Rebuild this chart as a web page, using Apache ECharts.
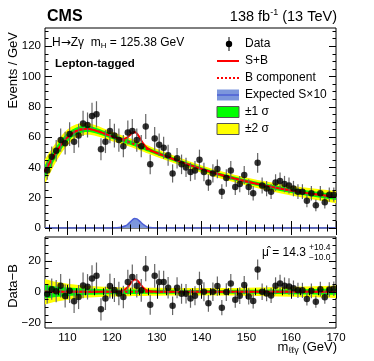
<!DOCTYPE html>
<html>
<head>
<meta charset="utf-8">
<script src="https://cdn.jsdelivr.net/npm/echarts@6/dist/echarts.min.js"></script>
<style>
  html, body { margin: 0; padding: 0; background: #fff; }
  #chart { width: 374px; height: 361px; }
</style>
</head>
<body>
<div id="chart"></div>
<script>
// 1 GeV bins, 105-170 GeV
const binCentres = [105.5, 106.5, 107.5, 108.5, 109.5, 110.5, 111.5, 112.5, 113.5, 114.5,
  115.5, 116.5, 117.5, 118.5, 119.5, 120.5, 121.5, 122.5, 123.5, 124.5,
  125.5, 126.5, 127.5, 128.5, 129.5, 130.5, 131.5, 132.5, 133.5, 134.5,
  135.5, 136.5, 137.5, 138.5, 139.5, 140.5, 141.5, 142.5, 143.5, 144.5,
  145.5, 146.5, 147.5, 148.5, 149.5, 150.5, 151.5, 152.5, 153.5, 154.5,
  155.5, 156.5, 157.5, 158.5, 159.5, 160.5, 161.5, 162.5, 163.5, 164.5,
  165.5, 166.5, 167.5, 168.5, 169.5];
const eventCounts = [38, 47, 51, 58, 56, 62, 57, 61, 69, 68,
  74, 75, 52, 57, 64, 61, 58, 54, 63, 64,
  58, 54, 67, 42, 59, 55, 53, 48, 36, 46,
  42, 40, 37, 38, 45, 37, 30, 36, 39, 24,
  33, 38, 27, 29, 35, 27, 23, 43, 28, 26,
  24, 30, 31, 29, 28, 26, 24, 24, 18, 23,
  15, 23, 17, 22, 22];
const dataMinusB = [-1.5, 1.7, 0.4, 3.9, -2.8, 0.6, -6.2, -3.4, 4.1, 3.2,
  8.6, 10.3, -11.4, -4.3, 3.7, 1.1, -1.1, -3.4, 6.4, 9.6,
  3.9, 0.9, 15.0, -8.5, 10.3, 6.4, 6.4, 2.6, -9.1, 2.6,
  -1.3, -1.3, -4.3, -2.6, 6.3, 0.0, -7.5, 0.0, 3.7, -10.3,
  -0.2, 5.4, -5.2, -2.6, 4.3, -3.0, -6.0, 14.4, 0.0, -1.1,
  -2.4, 3.9, 5.4, 3.9, 3.4, 2.2, 0.9, 0.9, -4.7, 0.6,
  -6.5, 1.7, -3.6, 1.5, 2.0];

// fit curves, read at these masses
const curveMass = [105, 106, 107, 108, 109, 110, 111, 112, 113, 114, 115, 116, 117, 118, 119, 120,
  121, 122, 122.5, 123, 123.5, 124, 124.5, 125, 125.5, 126, 126.5, 127, 127.5, 128, 129, 130,
  132.5, 135, 137.5, 140, 142.5, 145, 147.5, 150, 152.5, 155, 157.5, 160, 162.5, 165, 167.5, 170];
const bkgFit = [37.2, 42.7, 47.8, 52.4, 56.5, 59.8, 62.3, 64.0, 65.0, 65.4, 65.3, 64.6, 63.7, 62.6, 61.5, 60.4,
  59.4, 58.4, 57.9, 57.4, 56.9, 56.4, 55.9, 55.3, 54.8, 54.2, 53.6, 53.0, 52.4, 51.8, 50.6, 49.5,
  46.7, 44.0, 41.4, 38.9, 36.6, 34.5, 32.5, 30.7, 29.0, 27.5, 26.0, 24.7, 23.5, 22.4, 21.4, 20.4];
const sigFit = [0, 0, 0, 0, 0, 0, 0, 0, 0, 0, 0, 0, 0, 0, 0, 0,
  0.1, 0.4, 0.9, 1.8, 3.2, 5.0, 6.9, 8.0, 7.6, 6.1, 4.2, 2.5, 1.3, 0.6, 0.1, 0,
  0, 0, 0, 0, 0, 0, 0, 0, 0, 0, 0, 0, 0, 0, 0, 0];
const band1 = [4.4, 4.0, 3.6, 3.3, 3.0, 2.8, 2.6, 2.4, 2.25, 2.1, 2.0, 1.9, 1.8, 1.7, 1.65, 1.6,
  1.55, 1.5, 1.5, 1.5, 1.45, 1.45, 1.45, 1.4, 1.4, 1.4, 1.4, 1.35, 1.35, 1.35, 1.3, 1.3,
  1.25, 1.25, 1.2, 1.2, 1.2, 1.2, 1.25, 1.3, 1.35, 1.4, 1.5, 1.6, 1.7, 1.8, 1.9, 2.0];
const band2 = [8.2, 7.4, 6.7, 6.1, 5.6, 5.2, 4.8, 4.5, 4.2, 3.9, 3.7, 3.5, 3.4, 3.3, 3.2, 3.1,
  3.0, 2.95, 2.9, 2.9, 2.85, 2.85, 2.8, 2.8, 2.75, 2.75, 2.7, 2.7, 2.7, 2.65, 2.6, 2.6,
  2.5, 2.45, 2.4, 2.4, 2.4, 2.45, 2.5, 2.6, 2.7, 2.85, 3.0, 3.2, 3.4, 3.6, 3.8, 4.0];

// expected signal x10
const expMass = [105, 119, 120, 121, 122, 123, 123.5, 124, 124.5, 125, 125.5, 126, 126.5, 127, 127.5, 128, 129, 130, 170];
const expSigX10 = [0, 0, 0.02, 0.15, 0.5, 1.5, 2.5, 3.9, 5.3, 6.2, 6.0, 4.9, 3.5, 2.2, 1.2, 0.5, 0.1, 0, 0];

// ticks
const xMajor = [110, 120, 130, 140, 150, 160, 170];
const xMinor = [106, 108, 110, 112, 114, 116, 118, 120, 122, 124, 126, 128, 130, 132, 134, 136, 138,
  140, 142, 144, 146, 148, 150, 152, 154, 156, 158, 160, 162, 164, 166, 168, 170];
const yTopMajor = [0, 20, 40, 60, 80, 100, 120];
const yTopMinor = [5, 10, 15, 25, 30, 35, 45, 50, 55, 65, 70, 75, 85, 90, 95, 105, 110, 115, 125, 130];
const yLowMajor = [-20, 0, 20];
const yLowMinor = [-15, -10, -5, 5, 10, 15, 25, 30, 35];

const FONT = '"Liberation Sans", Arial, sans-serif';

function tickAxes(dim, g, min, max, major, minor, labelled, fmt) {
  const sides = dim === 'x' ? ['bottom', 'top'] : ['left', 'right'];
  const out = [];
  sides.forEach(function (pos, s) {
    [major, minor].forEach(function (vals, k) {
      out.push({
        type: 'value', gridIndex: g, position: pos, min: min, max: max, z: 10,
        axisLine: { show: false },
        splitLine: { show: false },
        axisTick: { show: true, inside: true, length: k === 0 ? 7 : 3.5, customValues: vals,
          lineStyle: { color: '#000', width: 1 } },
        axisLabel: { show: labelled && s === 0 && k === 0, customValues: major, color: '#000',
          fontSize: 11.5, fontFamily: FONT, margin: 4, formatter: fmt }
      });
    });
  });
  return out;
}

function pairs(xs, ys) {
  return xs.map(function (x, i) { return [x, ys[i]]; });
}

function bandSeries(xi, yi, centre, half, color) {
  return {
    type: 'custom', xAxisIndex: xi, yAxisIndex: yi, clip: true, silent: true, z: 1,
    data: pairs(curveMass, centre),
    renderItem: function (params, api) {
      if (params.dataIndex !== 0) return null;
      const upper = [], lower = [];
      for (let i = 0; i < curveMass.length; i++) {
        upper.push(api.coord([curveMass[i], centre[i] + half[i]]));
        lower.push(api.coord([curveMass[i], centre[i] - half[i]]));
      }
      return { type: 'polygon', shape: { points: upper.concat(lower.reverse()) },
        style: { fill: color, stroke: null } };
    }
  };
}

function errorBars(xi, yi, values) {
  return {
    type: 'custom', xAxisIndex: xi, yAxisIndex: yi, clip: true, silent: true, z: 5,
    data: binCentres.map(function (m, i) { return [m, values[i], Math.sqrt(eventCounts[i])]; }),
    renderItem: function (params, api) {
      const lo = api.coord([api.value(0), api.value(1) - api.value(2)]);
      const hi = api.coord([api.value(0), api.value(1) + api.value(2)]);
      return { type: 'line', shape: { x1: lo[0], y1: lo[1], x2: hi[0], y2: hi[1] },
        style: { stroke: '#666', lineWidth: 1.2 } };
    }
  };
}

function points(xi, yi, values) {
  return { type: 'scatter', xAxisIndex: xi, yAxisIndex: yi, data: pairs(binCentres, values),
    symbol: 'circle', symbolSize: 6.5, itemStyle: { color: '#000' }, z: 6, silent: true };
}

const zeros = curveMass.map(function () { return 0; });
const sPlusB = bkgFit.map(function (b, i) { return b + sigFit[i]; });
const minus = function (v) { return String(v).replace('-', '\u2212'); };

const chart = echarts.init(document.getElementById('chart'), null, { renderer: 'canvas' });

const option = {
  animation: false,
  backgroundColor: '#fff',
  grid: [
    { left: 45, top: 28, width: 291, height: 200, show: true, borderColor: '#000', borderWidth: 1, backgroundColor: 'transparent' },
    { left: 45, top: 237, width: 291, height: 91, show: true, borderColor: '#000', borderWidth: 1, backgroundColor: 'transparent' }
  ],
  xAxis: tickAxes('x', 0, 105, 170, xMajor, xMinor, false)
    .concat(tickAxes('x', 1, 105, 170, xMajor, xMinor, true)),
  yAxis: tickAxes('y', 0, 0, 132, yTopMajor, yTopMinor, true)
    .concat(tickAxes('y', 1, -23.5, 35.5, yLowMajor, yLowMinor, true, minus)),
  series: [
    // upper panel
    bandSeries(0, 0, bkgFit, band2, '#ffff00'),
    bandSeries(0, 0, bkgFit, band1, '#00ff00'),
    { type: 'line', xAxisIndex: 0, yAxisIndex: 0, data: pairs(expMass, expSigX10), symbol: 'none',
      smooth: 0.3, lineStyle: { color: '#4d5fd6', width: 1.5 },
      areaStyle: { color: '#7c96dc', origin: 'start', opacity: 1 }, z: 2, silent: true },
    { type: 'line', xAxisIndex: 0, yAxisIndex: 0, data: pairs(curveMass, bkgFit), symbol: 'none',
      smooth: 0.3, lineStyle: { color: '#ff0000', width: 2, type: [3, 2] }, z: 3, silent: true },
    { type: 'line', xAxisIndex: 0, yAxisIndex: 0, data: pairs(curveMass, sPlusB), symbol: 'none',
      smooth: 0.3, lineStyle: { color: '#ff0000', width: 2 }, z: 4, silent: true },
    errorBars(0, 0, eventCounts),
    points(0, 0, eventCounts),
    // lower panel
    bandSeries(4, 4, zeros, band2, '#ffff00'),
    bandSeries(4, 4, zeros, band1, '#00ff00'),
    { type: 'line', xAxisIndex: 4, yAxisIndex: 4, data: pairs(curveMass, zeros), symbol: 'none',
      lineStyle: { color: '#ff0000', width: 2, type: [3, 2] }, z: 3, silent: true },
    { type: 'line', xAxisIndex: 4, yAxisIndex: 4, data: pairs(curveMass, sigFit), symbol: 'none',
      smooth: 0.3, lineStyle: { color: '#ff0000', width: 2 }, z: 4, silent: true },
    errorBars(4, 4, dataMinusB),
    points(4, 4, dataMinusB)
  ],
  graphic: [
    { type: 'text', left: 47, top: 9, style: { text: 'CMS', font: 'bold 16px ' + FONT, fill: '#000' } },
    { type: 'text', right: 37, top: 8, style: {
      text: '{a|138 fb}{s|-1}{a| (13 TeV)}', fill: '#000',
      rich: { a: { fontSize: 14.5, fontFamily: FONT, lineHeight: 17 },
              s: { fontSize: 9, fontFamily: FONT, lineHeight: 9, verticalAlign: 'top' } } } },
    { type: 'text', left: 52, top: 37, style: {
      text: '{a|H}{r|\u2192}{a|Z\u03b3  m}{b|H}{a| = 125.38 GeV}', fill: '#000',
      rich: { a: { fontSize: 12, fontFamily: FONT, lineHeight: 14 },
              r: { fontSize: 12, fontFamily: '"DejaVu Sans", sans-serif', lineHeight: 14 },
              b: { fontSize: 8, fontFamily: FONT, lineHeight: 8, verticalAlign: 'bottom' } } } },
    { type: 'text', left: 55, top: 58, style: { text: 'Lepton-tagged', font: 'bold 11.5px ' + FONT, fill: '#000' } },
    // legend
    { type: 'line', shape: { x1: 229, y1: 37, x2: 229, y2: 51 }, style: { stroke: '#000', lineWidth: 1 } },
    { type: 'circle', shape: { cx: 229, cy: 44, r: 3.2 }, style: { fill: '#000' } },
    { type: 'line', shape: { x1: 217, y1: 61, x2: 239, y2: 61 }, style: { stroke: '#ff0000', lineWidth: 2 } },
    { type: 'line', shape: { x1: 217, y1: 78, x2: 239, y2: 78 }, style: { stroke: '#ff0000', lineWidth: 2, lineDash: [2, 2] } },
    { type: 'rect', shape: { x: 217, y: 89.5, width: 22, height: 11 }, style: { fill: '#7c96dc' } },
    { type: 'line', shape: { x1: 217, y1: 95, x2: 239, y2: 95 }, style: { stroke: '#4d5fd6', lineWidth: 1.5 } },
    { type: 'rect', shape: { x: 217, y: 106.5, width: 22, height: 11 }, style: { fill: '#00ff00', stroke: '#555', lineWidth: 1 } },
    { type: 'rect', shape: { x: 217, y: 123.5, width: 22, height: 11 }, style: { fill: '#ffff00', stroke: '#555', lineWidth: 1 } },
    { type: 'text', x: 245, y: 44, style: { text: 'Data', font: '12px ' + FONT, fill: '#000', verticalAlign: 'middle' } },
    { type: 'text', x: 245, y: 61, style: { text: 'S+B', font: '12px ' + FONT, fill: '#000', verticalAlign: 'middle' } },
    { type: 'text', x: 245, y: 78, style: { text: 'B component', font: '12px ' + FONT, fill: '#000', verticalAlign: 'middle' } },
    { type: 'text', x: 245, y: 95, style: { text: 'Expected S\u00d710', font: '12px ' + FONT, fill: '#000', verticalAlign: 'middle' } },
    { type: 'text', x: 245, y: 112, style: { text: '\u00b11 \u03c3', font: '12px ' + FONT, fill: '#000', verticalAlign: 'middle' } },
    { type: 'text', x: 245, y: 129, style: { text: '\u00b12 \u03c3', font: '12px ' + FONT, fill: '#000', verticalAlign: 'middle' } },
    // lower panel annotation
    { type: 'text', x: 262, y: 253, style: { text: '\u03bc\u0302 = 14.3', font: '12px ' + FONT, fill: '#000', verticalAlign: 'middle' } },
    { type: 'text', x: 309, y: 248, style: { text: '+10.4', font: '8.5px ' + FONT, fill: '#000', verticalAlign: 'middle' } },
    { type: 'text', x: 309, y: 258, style: { text: '\u221210.0', font: '8.5px ' + FONT, fill: '#000', verticalAlign: 'middle' } },
    // axis titles
    { type: 'text', x: 13, y: 32, rotation: Math.PI / 2, style: { text: 'Events / GeV', font: '13px ' + FONT, fill: '#000', align: 'right', verticalAlign: 'middle' } },
    { type: 'text', x: 13, y: 286, rotation: Math.PI / 2, style: { text: 'Data\u2212B', font: '13px ' + FONT, fill: '#000', align: 'center', verticalAlign: 'middle' } },
    { type: 'text', right: 37, top: 341, style: {
      text: '{a|m}{b|\u2113\u2113\u03b3}{a| (GeV)}', fill: '#000',
      rich: { a: { fontSize: 13, fontFamily: FONT, lineHeight: 15 },
              b: { fontSize: 9, fontFamily: FONT, lineHeight: 9, verticalAlign: 'bottom' } } } }
  ]
};

chart.setOption(option);
</script>
</body>
</html>
